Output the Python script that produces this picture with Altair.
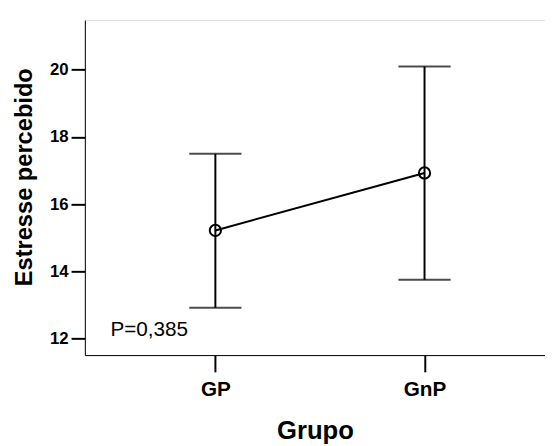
import altair as alt
import pandas as pd

groups = ["GP", "GnP"]
means = [15.22, 16.93]
lower = [12.92, 13.75]
upper = [17.50, 20.10]
y_ticks = [12, 14, 16, 18, 20]
annotation = "P=0,385"

df = pd.DataFrame({"Grupo": groups, "mean": means, "lo": lower, "hi": upper})

FONT = "Liberation Sans, Arial, sans-serif"

xscale = alt.Scale(type="point", domain=groups, padding=0.6, align=0.52)
yscale = alt.Scale(domain=[11.51, 21.48], nice=False, zero=False)

xenc = alt.X("Grupo:N", scale=xscale, sort=groups,
             axis=alt.Axis(title="Grupo", labelAngle=0, labelFontSize=21, labelFontWeight="bold",
                           labelFont=FONT, labelColor="black", labelBaseline="alphabetic",
                           labelPadding=24, tickSize=17, tickWidth=2, tickColor="black",
                           domainColor="black", domainWidth=1,
                           titleFont=FONT, titleFontSize=26, titleFontWeight="bold",
                           titleColor="black", titleBaseline="alphabetic", titleY=85))

base = alt.Chart(df)

rules = base.mark_rule(color="black", strokeWidth=2).encode(
    x=xenc,
    y=alt.Y("lo:Q", scale=yscale,
            axis=alt.Axis(title="Estresse percebido", values=y_ticks, labelFontSize=17,
                          labelFontWeight="bold", labelFont=FONT, labelColor="black",
                          labelPadding=3, tickSize=14, tickWidth=2, tickColor="black",
                          domainColor="black", domainWidth=1, grid=False,
                          titleFont=FONT, titleFontSize=24, titleFontWeight="bold",
                          titleColor="black", titleAngle=270, titleAlign="center",
                          titleBaseline="alphabetic", titleX=-54, titleY=159)),
    y2="hi:Q",
)

caps_lo = base.mark_tick(color="black", thickness=2, size=53).encode(x=xenc, y=alt.Y("lo:Q", scale=yscale))
caps_hi = base.mark_tick(color="black", thickness=2, size=53).encode(x=xenc, y=alt.Y("hi:Q", scale=yscale))

line = base.mark_line(color="black", strokeWidth=2).encode(x=xenc, y=alt.Y("mean:Q", scale=yscale))
pts = base.mark_point(shape="circle", filled=False, color="black", strokeWidth=2, size=130, opacity=1).encode(
    x=xenc, y=alt.Y("mean:Q", scale=yscale))

txt = alt.Chart(pd.DataFrame({"t": [annotation]})).mark_text(
    align="left", baseline="alphabetic", fontSize=21, font=FONT, color="black"
).encode(x=alt.value(26), y=alt.value(321), text="t:N")

chart = alt.layer(rules, caps_lo, caps_hi, line, pts, txt).properties(
    width=467, height=340,
    autosize="none",
    padding={"left": 78, "top": 9, "right": 0, "bottom": 89},
).configure_view(stroke=None).configure(background="white")

chart.save("out.html", embed_options={"renderer": "svg", "actions": False})
